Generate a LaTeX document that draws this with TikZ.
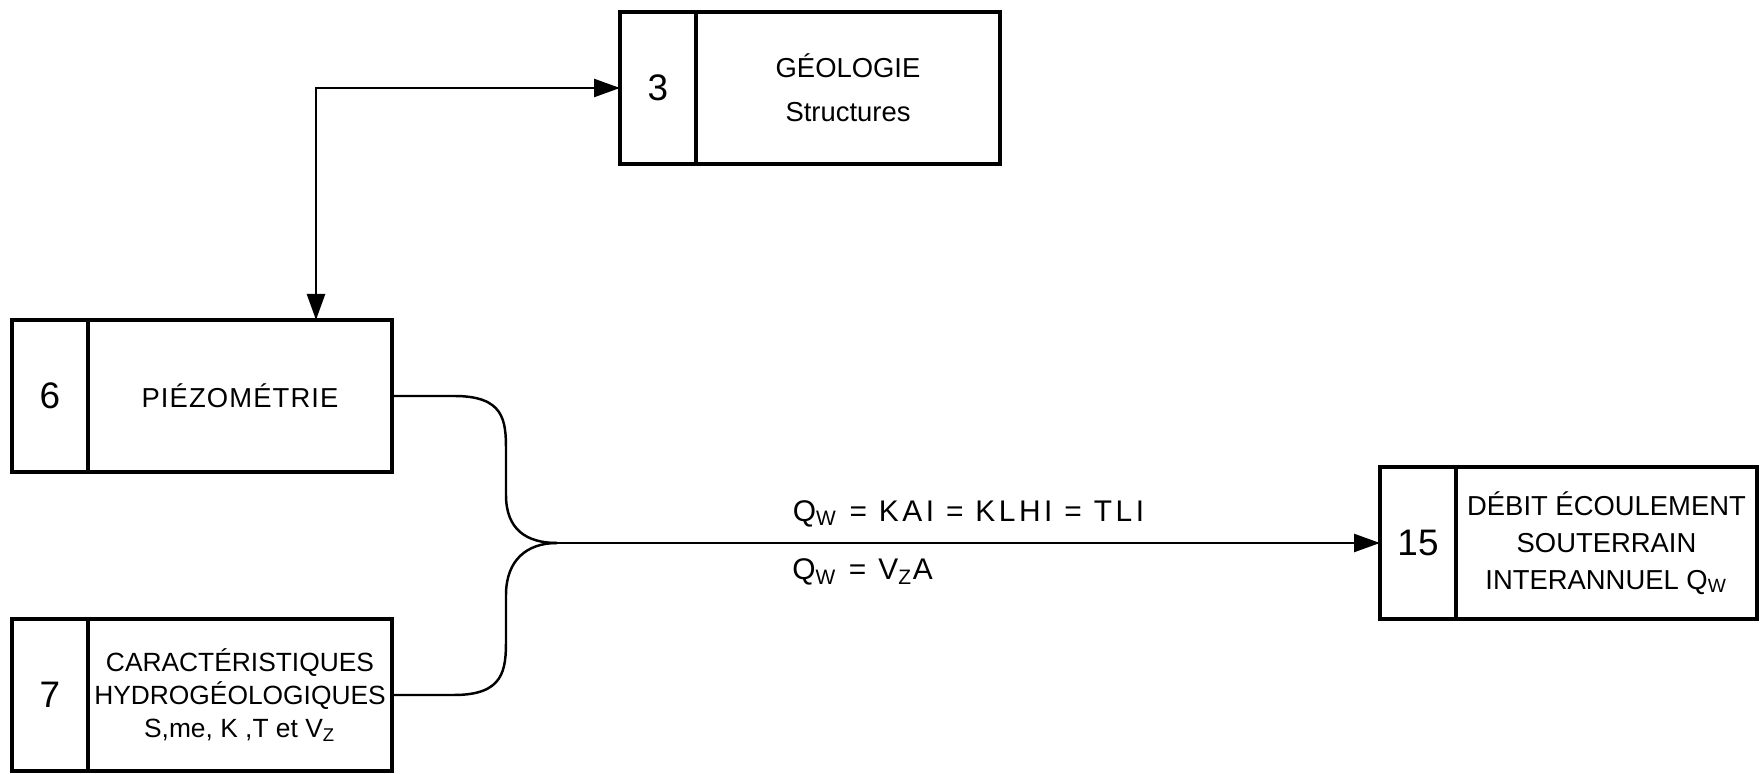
\documentclass[tikz,border=0pt]{standalone}
\usepackage{fontspec}
\setmainfont{Liberation Sans}
\usepackage{tikz}
\usetikzlibrary{arrows.meta,positioning}

\tikzset{
  numcell/.style={draw, line width=1.1pt, minimum width=7.6mm, minimum height=15.2mm,
    inner sep=0pt, outer sep=0pt, font=\fontsize{10.5}{12}\selectfont},
  txtcell/.style={draw, line width=1.1pt, minimum width=30.4mm, minimum height=15.2mm,
    inner sep=1pt, outer sep=0pt, align=center, font=\fontsize{7.5}{10}\selectfont},
  link/.style={line width=0.7pt},
  eq/.style={font=\fontsize{8.5}{10}\selectfont\addfontfeatures{LetterSpace=12}, inner sep=0pt},
}

\begin{document}
\begin{tikzpicture}[x=0.1mm,y=-0.1mm,>={Triangle[length=2.6mm,width=1.8mm]}]
  \useasboundingbox (0,0) rectangle (1762,774);
  % boxes
  \node[numcell] (n3) at (658,88) {3};
  \node[txtcell, right=0pt of n3, font=\fontsize{7.8}{12.5}\selectfont] (t3) {GÉOLOGIE\\Structures};
  \node[numcell] (n6) at (50,396) {6};
  \node[txtcell, right=0pt of n6, font=\fontsize{7.8}{10}\selectfont\addfontfeatures{LetterSpace=4}] (t6) {PIÉZOMÉTRIE};
  \node[numcell] (n7) at (50,695) {7};
  \node[txtcell, right=0pt of n7, font=\fontsize{7.5}{9.4}\selectfont] (t7)
    {CARACTÉRISTIQUES\\HYDROGÉOLOGIQUES\\S,me, K ,T et V\textsubscript{Z}};
  \node[numcell] (n15) at (1418,543) {15};
  \node[txtcell, right=0pt of n15, minimum width=30.1mm, font=\fontsize{7.8}{10.5}\selectfont] (t15)
    {DÉBIT ÉCOULEMENT\\SOUTERRAIN\\INTERANNUEL Q\textsubscript{W}};
  % links
  \coordinate (kink) at (316,92);
  \coordinate (join) at (557,543);
  \draw[link,<->] (n3.west) -| (kink |- t6.north);
  \draw[link] (t6.east) -- ++(62,0) .. controls +(50,0) and +(0,-30) .. (506,450)
    -- (506,495) .. controls +(0,35) and +(-30,0) .. (join);
  \draw[link] (t7.east) -- ++(62,0) .. controls +(50,0) and +(0,30) .. (506,640)
    -- (506,595) .. controls +(0,-35) and +(-30,0) .. (join);
  \draw[link,->] (join) -- (n15.west)
    node[eq, midway, above=1.5mm] (eqa) {Q\textsubscript{W} = KAI = KLHI = TLI};
  \node[eq, anchor=north west] (eqb) at ([yshift=-1.5mm]eqa.west |- join) {Q\textsubscript{W} = V\textsubscript{Z}A};
\end{tikzpicture}
\end{document}
